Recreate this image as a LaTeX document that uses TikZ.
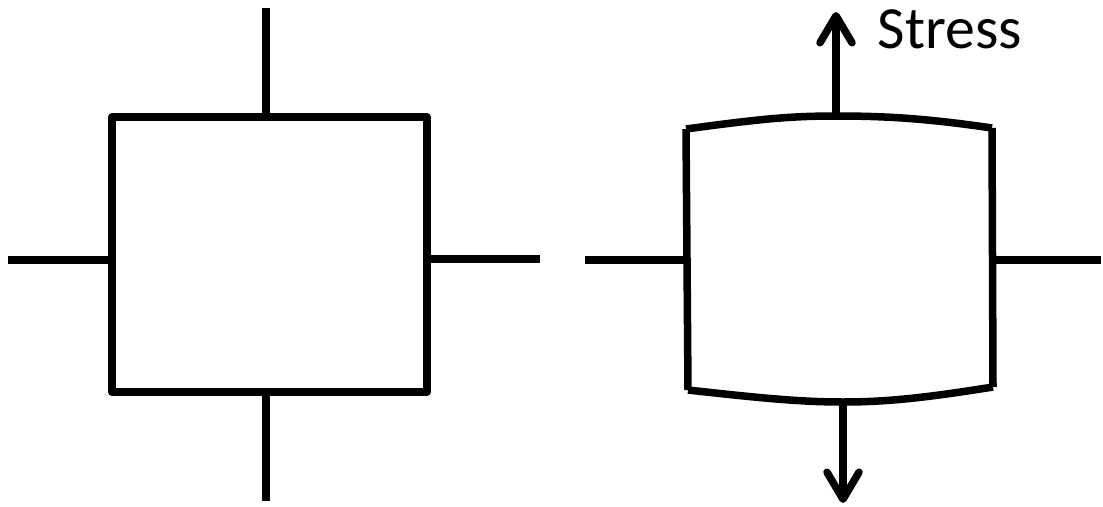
\documentclass[tikz,border=0pt]{standalone}
\usepackage{fontspec}
\setmainfont{Carlito}
\usetikzlibrary{arrows.meta}
\begin{document}
\begin{tikzpicture}[x=0.01cm,y=-0.01cm,
  edge/.style={line width=0.075cm, line join=round},
  force/.style={line width=0.075cm,
    -{Straight Barb[length=0.27cm,width=0.32cm,line cap=round,round]}}]
\useasboundingbox (0,0) rectangle (1103,506);

% unstressed element
\coordinate (a1) at (112,117);
\coordinate (a2) at (427,392);
\draw[edge] (a1) rectangle (a2);
\coordinate (aN) at (266,117);
\coordinate (aS) at (266,392);
\coordinate (aW) at (112,260);
\coordinate (aE) at (427,259);
\coordinate (aNt) at (266,8);
\coordinate (aSt) at (266,501);
\coordinate (aWt) at (8,260);
\coordinate (aEt) at (540,259);
\draw[edge] (aN) -- (aNt);
\draw[edge] (aS) -- (aSt);
\draw[edge] (aW) -- (aWt);
\draw[edge] (aE) -- (aEt);

% stressed element with bulging top and bottom
\coordinate (bTL) at (686,129);
\coordinate (bTR) at (992,128);
\coordinate (bBL) at (688,390);
\coordinate (bBR) at (993,387);
\coordinate (bN) at (836,116);
\coordinate (bS) at (843,402);
\draw[edge] (bTL) .. controls (760,119) and (790,116) .. (bN)
  .. controls (890,116) and (930,119) .. (bTR);
\draw[edge] (bBL) .. controls (760,398) and (800,402) .. (bS)
  .. controls (890,402) and (930,397) .. (bBR);
\draw[edge] (bTL) -- (bBL);
\draw[edge] (bTR) -- (bBR);
\coordinate (bW) at (686,260);
\coordinate (bE) at (992,260);
\coordinate (bWt) at (585,260);
\coordinate (bEt) at (1101,260);
\draw[edge] (bW) -- (bWt);
\draw[edge] (bE) -- (bEt);

% applied stress
\coordinate (up) at (836,12);
\coordinate (down) at (843,503);
\draw[force] (bN) -- (up);
\draw[force] (bS) -- (down);
\node[anchor=base west, inner sep=0pt, font=\fontsize{17pt}{20pt}\selectfont] (lbl) at (877,48) {Stress};
\end{tikzpicture}
\end{document}
